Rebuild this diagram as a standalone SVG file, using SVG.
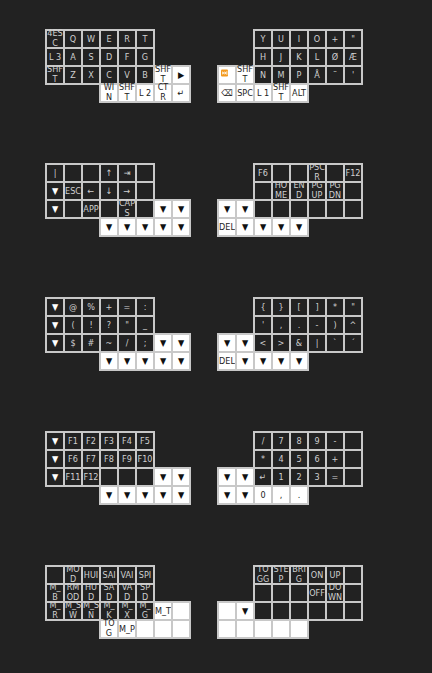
<svg xmlns="http://www.w3.org/2000/svg" width="432" height="673" viewBox="0 0 432 673">
<style>
text{font-family:'DejaVu Sans Condensed','DejaVu Sans',sans-serif;font-stretch:condensed;font-size:9px;text-anchor:middle;fill:#d0d0d0}
.w text{fill:#222}
.d text.a{fill:#fff}
.w text.a{fill:#111}
.kd{fill:#222;stroke:#c8c8c8;stroke-width:2}
.kw{fill:#fff;stroke:#c8c8c8;stroke-width:2}
</style>
<defs>
<rect id="kd" class="kd" width="18" height="18"/>
<rect id="kw" class="kw" width="18" height="18"/>
</defs>
<rect width="432" height="673" fill="#222"/>

<g id="layer1">
<g id="l1-L00" class="d" transform="translate(46,30)"><use href="#kd"/><text x="9" y="5.6"><tspan x="9">4ES</tspan><tspan x="9" dy="10.8">C</tspan></text></g>
<g id="l1-L01" class="d" transform="translate(64,30)"><use href="#kd"/><text x="9" y="12.3">Q</text></g>
<g id="l1-L02" class="d" transform="translate(82,30)"><use href="#kd"/><text x="9" y="12.3">W</text></g>
<g id="l1-L03" class="d" transform="translate(100,30)"><use href="#kd"/><text x="9" y="12.3">E</text></g>
<g id="l1-L04" class="d" transform="translate(118,30)"><use href="#kd"/><text x="9" y="12.3">R</text></g>
<g id="l1-L05" class="d" transform="translate(136,30)"><use href="#kd"/><text x="9" y="12.3">T</text></g>
<g id="l1-L10" class="d" transform="translate(46,48)"><use href="#kd"/><text x="9" y="12.3">L 3</text></g>
<g id="l1-L11" class="d" transform="translate(64,48)"><use href="#kd"/><text x="9" y="12.3">A</text></g>
<g id="l1-L12" class="d" transform="translate(82,48)"><use href="#kd"/><text x="9" y="12.3">S</text></g>
<g id="l1-L13" class="d" transform="translate(100,48)"><use href="#kd"/><text x="9" y="12.3">D</text></g>
<g id="l1-L14" class="d" transform="translate(118,48)"><use href="#kd"/><text x="9" y="12.3">F</text></g>
<g id="l1-L15" class="d" transform="translate(136,48)"><use href="#kd"/><text x="9" y="12.3">G</text></g>
<g id="l1-L20" class="d" transform="translate(46,66)"><use href="#kd"/><text x="9" y="5.6"><tspan x="9">SHF</tspan><tspan x="9" dy="10.8">T</tspan></text></g>
<g id="l1-L21" class="d" transform="translate(64,66)"><use href="#kd"/><text x="9" y="12.3">Z</text></g>
<g id="l1-L22" class="d" transform="translate(82,66)"><use href="#kd"/><text x="9" y="12.3">X</text></g>
<g id="l1-L23" class="d" transform="translate(100,66)"><use href="#kd"/><text x="9" y="12.3">C</text></g>
<g id="l1-L24" class="d" transform="translate(118,66)"><use href="#kd"/><text x="9" y="12.3">V</text></g>
<g id="l1-L25" class="d" transform="translate(136,66)"><use href="#kd"/><text x="9" y="12.3">B</text></g>
<g id="l1-L26" class="w" transform="translate(154,66)"><use href="#kw"/><text x="9" y="5.6"><tspan x="9">SHF</tspan><tspan x="9" dy="10.8">T</tspan></text></g>
<g id="l1-L27" class="w" transform="translate(172,66)"><use href="#kw"/><text class="a" x="9" y="12.3">▶</text></g>
<g id="l1-L33" class="w" transform="translate(100,84)"><use href="#kw"/><text x="9" y="5.6"><tspan x="9">WI</tspan><tspan x="9" dy="10.8">N</tspan></text></g>
<g id="l1-L34" class="w" transform="translate(118,84)"><use href="#kw"/><text x="9" y="5.6"><tspan x="9">SHF</tspan><tspan x="9" dy="10.8">T</tspan></text></g>
<g id="l1-L35" class="w" transform="translate(136,84)"><use href="#kw"/><text x="9" y="12.3">L 2</text></g>
<g id="l1-L36" class="w" transform="translate(154,84)"><use href="#kw"/><text x="9" y="5.6"><tspan x="9">CT</tspan><tspan x="9" dy="10.8">R</tspan></text></g>
<g id="l1-L37" class="w" transform="translate(172,84)"><use href="#kw"/><text class="a" x="9" y="12.3">↵</text></g>

<g id="l1-R02" class="d" transform="translate(254,30)"><use href="#kd"/><text x="9" y="12.3">Y</text></g>
<g id="l1-R03" class="d" transform="translate(272,30)"><use href="#kd"/><text x="9" y="12.3">U</text></g>
<g id="l1-R04" class="d" transform="translate(290,30)"><use href="#kd"/><text x="9" y="12.3">I</text></g>
<g id="l1-R05" class="d" transform="translate(308,30)"><use href="#kd"/><text x="9" y="12.3">O</text></g>
<g id="l1-R06" class="d" transform="translate(326,30)"><use href="#kd"/><text x="9" y="12.3">+</text></g>
<g id="l1-R07" class="d" transform="translate(344,30)"><use href="#kd"/><text x="9" y="12.3">"</text></g>
<g id="l1-R12" class="d" transform="translate(254,48)"><use href="#kd"/><text x="9" y="12.3">H</text></g>
<g id="l1-R13" class="d" transform="translate(272,48)"><use href="#kd"/><text x="9" y="12.3">J</text></g>
<g id="l1-R14" class="d" transform="translate(290,48)"><use href="#kd"/><text x="9" y="12.3">K</text></g>
<g id="l1-R15" class="d" transform="translate(308,48)"><use href="#kd"/><text x="9" y="12.3">L</text></g>
<g id="l1-R16" class="d" transform="translate(326,48)"><use href="#kd"/><text x="9" y="12.3">Ø</text></g>
<g id="l1-R17" class="d" transform="translate(344,48)"><use href="#kd"/><text x="9" y="12.3">Æ</text></g>
<g id="l1-R20" class="w" transform="translate(218,66)"><use href="#kw"/><rect x="3" y="3.5" width="7" height="7" rx="1" fill="#f39a1e"/><path d="M4.3 5.2 L6.3 7 L4.3 8.8 Z M6.5 5.2 L8.5 7 L6.5 8.8 Z" fill="#fff"/><rect x="8.5" y="5.2" width="0.8" height="3.6" fill="#fff"/></g>
<g id="l1-R21" class="w" transform="translate(236,66)"><use href="#kw"/><text x="9" y="5.6"><tspan x="9">SHF</tspan><tspan x="9" dy="10.8">T</tspan></text></g>
<g id="l1-R22" class="d" transform="translate(254,66)"><use href="#kd"/><text x="9" y="12.3">N</text></g>
<g id="l1-R23" class="d" transform="translate(272,66)"><use href="#kd"/><text x="9" y="12.3">M</text></g>
<g id="l1-R24" class="d" transform="translate(290,66)"><use href="#kd"/><text x="9" y="12.3">P</text></g>
<g id="l1-R25" class="d" transform="translate(308,66)"><use href="#kd"/><text x="9" y="12.3">Å</text></g>
<g id="l1-R26" class="d" transform="translate(326,66)"><use href="#kd"/><text x="9" y="12.3">¨</text></g>
<g id="l1-R27" class="d" transform="translate(344,66)"><use href="#kd"/><text x="9" y="12.3">'</text></g>
<g id="l1-R30" class="w" transform="translate(218,84)"><use href="#kw"/><text x="9" y="12.3">⌫</text></g>
<g id="l1-R31" class="w" transform="translate(236,84)"><use href="#kw"/><text x="9" y="12.3">SPC</text></g>
<g id="l1-R32" class="w" transform="translate(254,84)"><use href="#kw"/><text x="9" y="12.3">L 1</text></g>
<g id="l1-R33" class="w" transform="translate(272,84)"><use href="#kw"/><text x="9" y="5.6"><tspan x="9">SHF</tspan><tspan x="9" dy="10.8">T</tspan></text></g>
<g id="l1-R34" class="w" transform="translate(290,84)"><use href="#kw"/><text x="9" y="12.3">ALT</text></g>
</g>

<g id="layer2">
<g id="l2-L00" class="d" transform="translate(46,164)"><use href="#kd"/><text x="9" y="12.3">|</text></g>
<g id="l2-L01" class="d" transform="translate(64,164)"><use href="#kd"/></g>
<g id="l2-L02" class="d" transform="translate(82,164)"><use href="#kd"/></g>
<g id="l2-L03" class="d" transform="translate(100,164)"><use href="#kd"/><text x="9" y="12.3">↑</text></g>
<g id="l2-L04" class="d" transform="translate(118,164)"><use href="#kd"/><text x="9" y="12.3">⇥</text></g>
<g id="l2-L05" class="d" transform="translate(136,164)"><use href="#kd"/></g>
<g id="l2-L10" class="d" transform="translate(46,182)"><use href="#kd"/><text class="a" x="9" y="12.3">▼</text></g>
<g id="l2-L11" class="d" transform="translate(64,182)"><use href="#kd"/><text x="9" y="12.3">ESC</text></g>
<g id="l2-L12" class="d" transform="translate(82,182)"><use href="#kd"/><text x="9" y="12.3">←</text></g>
<g id="l2-L13" class="d" transform="translate(100,182)"><use href="#kd"/><text x="9" y="12.3">↓</text></g>
<g id="l2-L14" class="d" transform="translate(118,182)"><use href="#kd"/><text x="9" y="12.3">→</text></g>
<g id="l2-L15" class="d" transform="translate(136,182)"><use href="#kd"/></g>
<g id="l2-L20" class="d" transform="translate(46,200)"><use href="#kd"/><text class="a" x="9" y="12.3">▼</text></g>
<g id="l2-L21" class="d" transform="translate(64,200)"><use href="#kd"/></g>
<g id="l2-L22" class="d" transform="translate(82,200)"><use href="#kd"/><text x="9" y="12.3">APP</text></g>
<g id="l2-L23" class="d" transform="translate(100,200)"><use href="#kd"/></g>
<g id="l2-L24" class="d" transform="translate(118,200)"><use href="#kd"/><text x="9" y="5.6"><tspan x="9">CAP</tspan><tspan x="9" dy="10.8">S</tspan></text></g>
<g id="l2-L25" class="d" transform="translate(136,200)"><use href="#kd"/></g>
<g id="l2-L26" class="w" transform="translate(154,200)"><use href="#kw"/><text class="a" x="9" y="12.3">▼</text></g>
<g id="l2-L27" class="w" transform="translate(172,200)"><use href="#kw"/><text class="a" x="9" y="12.3">▼</text></g>
<g id="l2-L33" class="w" transform="translate(100,218)"><use href="#kw"/><text class="a" x="9" y="12.3">▼</text></g>
<g id="l2-L34" class="w" transform="translate(118,218)"><use href="#kw"/><text class="a" x="9" y="12.3">▼</text></g>
<g id="l2-L35" class="w" transform="translate(136,218)"><use href="#kw"/><text class="a" x="9" y="12.3">▼</text></g>
<g id="l2-L36" class="w" transform="translate(154,218)"><use href="#kw"/><text class="a" x="9" y="12.3">▼</text></g>
<g id="l2-L37" class="w" transform="translate(172,218)"><use href="#kw"/><text class="a" x="9" y="12.3">▼</text></g>

<g id="l2-R02" class="d" transform="translate(254,164)"><use href="#kd"/><text x="9" y="12.3">F6</text></g>
<g id="l2-R03" class="d" transform="translate(272,164)"><use href="#kd"/></g>
<g id="l2-R04" class="d" transform="translate(290,164)"><use href="#kd"/></g>
<g id="l2-R05" class="d" transform="translate(308,164)"><use href="#kd"/><text x="9" y="5.6"><tspan x="9">PSC</tspan><tspan x="9" dy="10.8">R</tspan></text></g>
<g id="l2-R06" class="d" transform="translate(326,164)"><use href="#kd"/></g>
<g id="l2-R07" class="d" transform="translate(344,164)"><use href="#kd"/><text x="9" y="12.3">F12</text></g>
<g id="l2-R12" class="d" transform="translate(254,182)"><use href="#kd"/></g>
<g id="l2-R13" class="d" transform="translate(272,182)"><use href="#kd"/><text x="9" y="5.6"><tspan x="9">HO</tspan><tspan x="9" dy="10.8">ME</tspan></text></g>
<g id="l2-R14" class="d" transform="translate(290,182)"><use href="#kd"/><text x="9" y="5.6"><tspan x="9">EN</tspan><tspan x="9" dy="10.8">D</tspan></text></g>
<g id="l2-R15" class="d" transform="translate(308,182)"><use href="#kd"/><text x="9" y="5.6"><tspan x="9">PG</tspan><tspan x="9" dy="10.8">UP</tspan></text></g>
<g id="l2-R16" class="d" transform="translate(326,182)"><use href="#kd"/><text x="9" y="5.6"><tspan x="9">PG</tspan><tspan x="9" dy="10.8">DN</tspan></text></g>
<g id="l2-R17" class="d" transform="translate(344,182)"><use href="#kd"/></g>
<g id="l2-R20" class="w" transform="translate(218,200)"><use href="#kw"/><text class="a" x="9" y="12.3">▼</text></g>
<g id="l2-R21" class="w" transform="translate(236,200)"><use href="#kw"/><text class="a" x="9" y="12.3">▼</text></g>
<g id="l2-R22" class="d" transform="translate(254,200)"><use href="#kd"/></g>
<g id="l2-R23" class="d" transform="translate(272,200)"><use href="#kd"/></g>
<g id="l2-R24" class="d" transform="translate(290,200)"><use href="#kd"/></g>
<g id="l2-R25" class="d" transform="translate(308,200)"><use href="#kd"/></g>
<g id="l2-R26" class="d" transform="translate(326,200)"><use href="#kd"/></g>
<g id="l2-R27" class="d" transform="translate(344,200)"><use href="#kd"/></g>
<g id="l2-R30" class="w" transform="translate(218,218)"><use href="#kw"/><text x="9" y="12.3">DEL</text></g>
<g id="l2-R31" class="w" transform="translate(236,218)"><use href="#kw"/><text class="a" x="9" y="12.3">▼</text></g>
<g id="l2-R32" class="w" transform="translate(254,218)"><use href="#kw"/><text class="a" x="9" y="12.3">▼</text></g>
<g id="l2-R33" class="w" transform="translate(272,218)"><use href="#kw"/><text class="a" x="9" y="12.3">▼</text></g>
<g id="l2-R34" class="w" transform="translate(290,218)"><use href="#kw"/><text class="a" x="9" y="12.3">▼</text></g>
</g>

<g id="layer3">
<g id="l3-L00" class="d" transform="translate(46,298)"><use href="#kd"/><text class="a" x="9" y="12.3">▼</text></g>
<g id="l3-L01" class="d" transform="translate(64,298)"><use href="#kd"/><text x="9" y="12.3">@</text></g>
<g id="l3-L02" class="d" transform="translate(82,298)"><use href="#kd"/><text x="9" y="12.3">%</text></g>
<g id="l3-L03" class="d" transform="translate(100,298)"><use href="#kd"/><text x="9" y="12.3">+</text></g>
<g id="l3-L04" class="d" transform="translate(118,298)"><use href="#kd"/><text x="9" y="12.3">=</text></g>
<g id="l3-L05" class="d" transform="translate(136,298)"><use href="#kd"/><text x="9" y="12.3">:</text></g>
<g id="l3-L10" class="d" transform="translate(46,316)"><use href="#kd"/><text class="a" x="9" y="12.3">▼</text></g>
<g id="l3-L11" class="d" transform="translate(64,316)"><use href="#kd"/><text x="9" y="12.3">(</text></g>
<g id="l3-L12" class="d" transform="translate(82,316)"><use href="#kd"/><text x="9" y="12.3">!</text></g>
<g id="l3-L13" class="d" transform="translate(100,316)"><use href="#kd"/><text x="9" y="12.3">?</text></g>
<g id="l3-L14" class="d" transform="translate(118,316)"><use href="#kd"/><text x="9" y="12.3">"</text></g>
<g id="l3-L15" class="d" transform="translate(136,316)"><use href="#kd"/><text x="9" y="12.3">_</text></g>
<g id="l3-L20" class="d" transform="translate(46,334)"><use href="#kd"/><text class="a" x="9" y="12.3">▼</text></g>
<g id="l3-L21" class="d" transform="translate(64,334)"><use href="#kd"/><text x="9" y="12.3">$</text></g>
<g id="l3-L22" class="d" transform="translate(82,334)"><use href="#kd"/><text x="9" y="12.3">#</text></g>
<g id="l3-L23" class="d" transform="translate(100,334)"><use href="#kd"/><text x="9" y="12.3">~</text></g>
<g id="l3-L24" class="d" transform="translate(118,334)"><use href="#kd"/><text x="9" y="12.3">/</text></g>
<g id="l3-L25" class="d" transform="translate(136,334)"><use href="#kd"/><text x="9" y="12.3">;</text></g>
<g id="l3-L26" class="w" transform="translate(154,334)"><use href="#kw"/><text class="a" x="9" y="12.3">▼</text></g>
<g id="l3-L27" class="w" transform="translate(172,334)"><use href="#kw"/><text class="a" x="9" y="12.3">▼</text></g>
<g id="l3-L33" class="w" transform="translate(100,352)"><use href="#kw"/><text class="a" x="9" y="12.3">▼</text></g>
<g id="l3-L34" class="w" transform="translate(118,352)"><use href="#kw"/><text class="a" x="9" y="12.3">▼</text></g>
<g id="l3-L35" class="w" transform="translate(136,352)"><use href="#kw"/><text class="a" x="9" y="12.3">▼</text></g>
<g id="l3-L36" class="w" transform="translate(154,352)"><use href="#kw"/><text class="a" x="9" y="12.3">▼</text></g>
<g id="l3-L37" class="w" transform="translate(172,352)"><use href="#kw"/><text class="a" x="9" y="12.3">▼</text></g>

<g id="l3-R02" class="d" transform="translate(254,298)"><use href="#kd"/><text x="9" y="12.3">{</text></g>
<g id="l3-R03" class="d" transform="translate(272,298)"><use href="#kd"/><text x="9" y="12.3">}</text></g>
<g id="l3-R04" class="d" transform="translate(290,298)"><use href="#kd"/><text x="9" y="12.3">[</text></g>
<g id="l3-R05" class="d" transform="translate(308,298)"><use href="#kd"/><text x="9" y="12.3">]</text></g>
<g id="l3-R06" class="d" transform="translate(326,298)"><use href="#kd"/><text x="9" y="12.3">*</text></g>
<g id="l3-R07" class="d" transform="translate(344,298)"><use href="#kd"/><text x="9" y="12.3">"</text></g>
<g id="l3-R12" class="d" transform="translate(254,316)"><use href="#kd"/><text x="9" y="12.3">'</text></g>
<g id="l3-R13" class="d" transform="translate(272,316)"><use href="#kd"/><text x="9" y="12.3">,</text></g>
<g id="l3-R14" class="d" transform="translate(290,316)"><use href="#kd"/><text x="9" y="12.3">.</text></g>
<g id="l3-R15" class="d" transform="translate(308,316)"><use href="#kd"/><text x="9" y="12.3">-</text></g>
<g id="l3-R16" class="d" transform="translate(326,316)"><use href="#kd"/><text x="9" y="12.3">)</text></g>
<g id="l3-R17" class="d" transform="translate(344,316)"><use href="#kd"/><text x="9" y="12.3">^</text></g>
<g id="l3-R20" class="w" transform="translate(218,334)"><use href="#kw"/><text class="a" x="9" y="12.3">▼</text></g>
<g id="l3-R21" class="w" transform="translate(236,334)"><use href="#kw"/><text class="a" x="9" y="12.3">▼</text></g>
<g id="l3-R22" class="d" transform="translate(254,334)"><use href="#kd"/><text x="9" y="12.3">&lt;</text></g>
<g id="l3-R23" class="d" transform="translate(272,334)"><use href="#kd"/><text x="9" y="12.3">&gt;</text></g>
<g id="l3-R24" class="d" transform="translate(290,334)"><use href="#kd"/><text x="9" y="12.3">&amp;</text></g>
<g id="l3-R25" class="d" transform="translate(308,334)"><use href="#kd"/><text x="9" y="12.3">|</text></g>
<g id="l3-R26" class="d" transform="translate(326,334)"><use href="#kd"/><text x="9" y="12.3">`</text></g>
<g id="l3-R27" class="d" transform="translate(344,334)"><use href="#kd"/><text x="9" y="12.3">´</text></g>
<g id="l3-R30" class="w" transform="translate(218,352)"><use href="#kw"/><text x="9" y="12.3">DEL</text></g>
<g id="l3-R31" class="w" transform="translate(236,352)"><use href="#kw"/><text class="a" x="9" y="12.3">▼</text></g>
<g id="l3-R32" class="w" transform="translate(254,352)"><use href="#kw"/><text class="a" x="9" y="12.3">▼</text></g>
<g id="l3-R33" class="w" transform="translate(272,352)"><use href="#kw"/><text class="a" x="9" y="12.3">▼</text></g>
<g id="l3-R34" class="w" transform="translate(290,352)"><use href="#kw"/><text class="a" x="9" y="12.3">▼</text></g>
</g>

<g id="layer4">
<g id="l4-L00" class="d" transform="translate(46,432)"><use href="#kd"/><text class="a" x="9" y="12.3">▼</text></g>
<g id="l4-L01" class="d" transform="translate(64,432)"><use href="#kd"/><text x="9" y="12.3">F1</text></g>
<g id="l4-L02" class="d" transform="translate(82,432)"><use href="#kd"/><text x="9" y="12.3">F2</text></g>
<g id="l4-L03" class="d" transform="translate(100,432)"><use href="#kd"/><text x="9" y="12.3">F3</text></g>
<g id="l4-L04" class="d" transform="translate(118,432)"><use href="#kd"/><text x="9" y="12.3">F4</text></g>
<g id="l4-L05" class="d" transform="translate(136,432)"><use href="#kd"/><text x="9" y="12.3">F5</text></g>
<g id="l4-L10" class="d" transform="translate(46,450)"><use href="#kd"/><text class="a" x="9" y="12.3">▼</text></g>
<g id="l4-L11" class="d" transform="translate(64,450)"><use href="#kd"/><text x="9" y="12.3">F6</text></g>
<g id="l4-L12" class="d" transform="translate(82,450)"><use href="#kd"/><text x="9" y="12.3">F7</text></g>
<g id="l4-L13" class="d" transform="translate(100,450)"><use href="#kd"/><text x="9" y="12.3">F8</text></g>
<g id="l4-L14" class="d" transform="translate(118,450)"><use href="#kd"/><text x="9" y="12.3">F9</text></g>
<g id="l4-L15" class="d" transform="translate(136,450)"><use href="#kd"/><text x="9" y="12.3">F10</text></g>
<g id="l4-L20" class="d" transform="translate(46,468)"><use href="#kd"/><text class="a" x="9" y="12.3">▼</text></g>
<g id="l4-L21" class="d" transform="translate(64,468)"><use href="#kd"/><text x="9" y="12.3">F11</text></g>
<g id="l4-L22" class="d" transform="translate(82,468)"><use href="#kd"/><text x="9" y="12.3">F12</text></g>
<g id="l4-L23" class="d" transform="translate(100,468)"><use href="#kd"/></g>
<g id="l4-L24" class="d" transform="translate(118,468)"><use href="#kd"/></g>
<g id="l4-L25" class="d" transform="translate(136,468)"><use href="#kd"/></g>
<g id="l4-L26" class="w" transform="translate(154,468)"><use href="#kw"/><text class="a" x="9" y="12.3">▼</text></g>
<g id="l4-L27" class="w" transform="translate(172,468)"><use href="#kw"/><text class="a" x="9" y="12.3">▼</text></g>
<g id="l4-L33" class="w" transform="translate(100,486)"><use href="#kw"/><text class="a" x="9" y="12.3">▼</text></g>
<g id="l4-L34" class="w" transform="translate(118,486)"><use href="#kw"/><text class="a" x="9" y="12.3">▼</text></g>
<g id="l4-L35" class="w" transform="translate(136,486)"><use href="#kw"/><text class="a" x="9" y="12.3">▼</text></g>
<g id="l4-L36" class="w" transform="translate(154,486)"><use href="#kw"/><text class="a" x="9" y="12.3">▼</text></g>
<g id="l4-L37" class="w" transform="translate(172,486)"><use href="#kw"/><text class="a" x="9" y="12.3">▼</text></g>

<g id="l4-R02" class="d" transform="translate(254,432)"><use href="#kd"/><text x="9" y="12.3">/</text></g>
<g id="l4-R03" class="d" transform="translate(272,432)"><use href="#kd"/><text x="9" y="12.3">7</text></g>
<g id="l4-R04" class="d" transform="translate(290,432)"><use href="#kd"/><text x="9" y="12.3">8</text></g>
<g id="l4-R05" class="d" transform="translate(308,432)"><use href="#kd"/><text x="9" y="12.3">9</text></g>
<g id="l4-R06" class="d" transform="translate(326,432)"><use href="#kd"/><text x="9" y="12.3">-</text></g>
<g id="l4-R07" class="d" transform="translate(344,432)"><use href="#kd"/></g>
<g id="l4-R12" class="d" transform="translate(254,450)"><use href="#kd"/><text x="9" y="12.3">*</text></g>
<g id="l4-R13" class="d" transform="translate(272,450)"><use href="#kd"/><text x="9" y="12.3">4</text></g>
<g id="l4-R14" class="d" transform="translate(290,450)"><use href="#kd"/><text x="9" y="12.3">5</text></g>
<g id="l4-R15" class="d" transform="translate(308,450)"><use href="#kd"/><text x="9" y="12.3">6</text></g>
<g id="l4-R16" class="d" transform="translate(326,450)"><use href="#kd"/><text x="9" y="12.3">+</text></g>
<g id="l4-R17" class="d" transform="translate(344,450)"><use href="#kd"/></g>
<g id="l4-R20" class="w" transform="translate(218,468)"><use href="#kw"/><text class="a" x="9" y="12.3">▼</text></g>
<g id="l4-R21" class="w" transform="translate(236,468)"><use href="#kw"/><text class="a" x="9" y="12.3">▼</text></g>
<g id="l4-R22" class="d" transform="translate(254,468)"><use href="#kd"/><text x="9" y="12.3">↵</text></g>
<g id="l4-R23" class="d" transform="translate(272,468)"><use href="#kd"/><text x="9" y="12.3">1</text></g>
<g id="l4-R24" class="d" transform="translate(290,468)"><use href="#kd"/><text x="9" y="12.3">2</text></g>
<g id="l4-R25" class="d" transform="translate(308,468)"><use href="#kd"/><text x="9" y="12.3">3</text></g>
<g id="l4-R26" class="d" transform="translate(326,468)"><use href="#kd"/><text x="9" y="12.3">=</text></g>
<g id="l4-R27" class="d" transform="translate(344,468)"><use href="#kd"/></g>
<g id="l4-R30" class="w" transform="translate(218,486)"><use href="#kw"/><text class="a" x="9" y="12.3">▼</text></g>
<g id="l4-R31" class="w" transform="translate(236,486)"><use href="#kw"/><text class="a" x="9" y="12.3">▼</text></g>
<g id="l4-R32" class="w" transform="translate(254,486)"><use href="#kw"/><text x="9" y="12.3">0</text></g>
<g id="l4-R33" class="w" transform="translate(272,486)"><use href="#kw"/><text x="9" y="12.3">,</text></g>
<g id="l4-R34" class="w" transform="translate(290,486)"><use href="#kw"/><text x="9" y="12.3">.</text></g>
</g>

<g id="layer5">
<g id="l5-L00" class="d" transform="translate(46,566)"><use href="#kd"/></g>
<g id="l5-L01" class="d" transform="translate(64,566)"><use href="#kd"/><text x="9" y="5.6"><tspan x="9">MO</tspan><tspan x="9" dy="10.8">D</tspan></text></g>
<g id="l5-L02" class="d" transform="translate(82,566)"><use href="#kd"/><text x="9" y="12.3">HUI</text></g>
<g id="l5-L03" class="d" transform="translate(100,566)"><use href="#kd"/><text x="9" y="12.3">SAI</text></g>
<g id="l5-L04" class="d" transform="translate(118,566)"><use href="#kd"/><text x="9" y="12.3">VAI</text></g>
<g id="l5-L05" class="d" transform="translate(136,566)"><use href="#kd"/><text x="9" y="12.3">SPI</text></g>
<g id="l5-L10" class="d" transform="translate(46,584)"><use href="#kd"/><text x="9" y="5.6"><tspan x="9">M_</tspan><tspan x="9" dy="10.8">B</tspan></text></g>
<g id="l5-L11" class="d" transform="translate(64,584)"><use href="#kd"/><text x="9" y="5.6"><tspan x="9">RM</tspan><tspan x="9" dy="10.8">OD</tspan></text></g>
<g id="l5-L12" class="d" transform="translate(82,584)"><use href="#kd"/><text x="9" y="5.6"><tspan x="9">HU</tspan><tspan x="9" dy="10.8">D</tspan></text></g>
<g id="l5-L13" class="d" transform="translate(100,584)"><use href="#kd"/><text x="9" y="5.6"><tspan x="9">SA</tspan><tspan x="9" dy="10.8">D</tspan></text></g>
<g id="l5-L14" class="d" transform="translate(118,584)"><use href="#kd"/><text x="9" y="5.6"><tspan x="9">VA</tspan><tspan x="9" dy="10.8">D</tspan></text></g>
<g id="l5-L15" class="d" transform="translate(136,584)"><use href="#kd"/><text x="9" y="5.6"><tspan x="9">SP</tspan><tspan x="9" dy="10.8">D</tspan></text></g>
<g id="l5-L20" class="d" transform="translate(46,602)"><use href="#kd"/><text x="9" y="5.6"><tspan x="9">M_</tspan><tspan x="9" dy="10.8">R</tspan></text></g>
<g id="l5-L21" class="d" transform="translate(64,602)"><use href="#kd"/><text x="9" y="5.6"><tspan x="9">M_S</tspan><tspan x="9" dy="10.8">W</tspan></text></g>
<g id="l5-L22" class="d" transform="translate(82,602)"><use href="#kd"/><text x="9" y="5.6"><tspan x="9">M_S</tspan><tspan x="9" dy="10.8">N</tspan></text></g>
<g id="l5-L23" class="d" transform="translate(100,602)"><use href="#kd"/><text x="9" y="5.6"><tspan x="9">M_</tspan><tspan x="9" dy="10.8">K</tspan></text></g>
<g id="l5-L24" class="d" transform="translate(118,602)"><use href="#kd"/><text x="9" y="5.6"><tspan x="9">M_</tspan><tspan x="9" dy="10.8">X</tspan></text></g>
<g id="l5-L25" class="d" transform="translate(136,602)"><use href="#kd"/><text x="9" y="5.6"><tspan x="9">M_</tspan><tspan x="9" dy="10.8">G</tspan></text></g>
<g id="l5-L26" class="w" transform="translate(154,602)"><use href="#kw"/><text x="9" y="12.3">M_T</text></g>
<g id="l5-L27" class="w" transform="translate(172,602)"><use href="#kw"/></g>
<g id="l5-L33" class="w" transform="translate(100,620)"><use href="#kw"/><text x="9" y="5.6"><tspan x="9">TO</tspan><tspan x="9" dy="10.8">G</tspan></text></g>
<g id="l5-L34" class="w" transform="translate(118,620)"><use href="#kw"/><text x="9" y="12.3">M_P</text></g>
<g id="l5-L35" class="w" transform="translate(136,620)"><use href="#kw"/></g>
<g id="l5-L36" class="w" transform="translate(154,620)"><use href="#kw"/></g>
<g id="l5-L37" class="w" transform="translate(172,620)"><use href="#kw"/></g>

<g id="l5-R02" class="d" transform="translate(254,566)"><use href="#kd"/><text x="9" y="5.6"><tspan x="9">TO</tspan><tspan x="9" dy="10.8">GG</tspan></text></g>
<g id="l5-R03" class="d" transform="translate(272,566)"><use href="#kd"/><text x="9" y="5.6"><tspan x="9">STE</tspan><tspan x="9" dy="10.8">P</tspan></text></g>
<g id="l5-R04" class="d" transform="translate(290,566)"><use href="#kd"/><text x="9" y="5.6"><tspan x="9">BRI</tspan><tspan x="9" dy="10.8">G</tspan></text></g>
<g id="l5-R05" class="d" transform="translate(308,566)"><use href="#kd"/><text x="9" y="12.3">ON</text></g>
<g id="l5-R06" class="d" transform="translate(326,566)"><use href="#kd"/><text x="9" y="12.3">UP</text></g>
<g id="l5-R07" class="d" transform="translate(344,566)"><use href="#kd"/></g>
<g id="l5-R12" class="d" transform="translate(254,584)"><use href="#kd"/></g>
<g id="l5-R13" class="d" transform="translate(272,584)"><use href="#kd"/></g>
<g id="l5-R14" class="d" transform="translate(290,584)"><use href="#kd"/></g>
<g id="l5-R15" class="d" transform="translate(308,584)"><use href="#kd"/><text x="9" y="12.3">OFF</text></g>
<g id="l5-R16" class="d" transform="translate(326,584)"><use href="#kd"/><text x="9" y="5.6"><tspan x="9">DO</tspan><tspan x="9" dy="10.8">WN</tspan></text></g>
<g id="l5-R17" class="d" transform="translate(344,584)"><use href="#kd"/></g>
<g id="l5-R20" class="w" transform="translate(218,602)"><use href="#kw"/></g>
<g id="l5-R21" class="w" transform="translate(236,602)"><use href="#kw"/><text class="a" x="9" y="12.3">▼</text></g>
<g id="l5-R22" class="d" transform="translate(254,602)"><use href="#kd"/></g>
<g id="l5-R23" class="d" transform="translate(272,602)"><use href="#kd"/></g>
<g id="l5-R24" class="d" transform="translate(290,602)"><use href="#kd"/></g>
<g id="l5-R25" class="d" transform="translate(308,602)"><use href="#kd"/></g>
<g id="l5-R26" class="d" transform="translate(326,602)"><use href="#kd"/></g>
<g id="l5-R27" class="d" transform="translate(344,602)"><use href="#kd"/></g>
<g id="l5-R30" class="w" transform="translate(218,620)"><use href="#kw"/></g>
<g id="l5-R31" class="w" transform="translate(236,620)"><use href="#kw"/></g>
<g id="l5-R32" class="w" transform="translate(254,620)"><use href="#kw"/></g>
<g id="l5-R33" class="w" transform="translate(272,620)"><use href="#kw"/></g>
<g id="l5-R34" class="w" transform="translate(290,620)"><use href="#kw"/></g>
</g>
</svg>
